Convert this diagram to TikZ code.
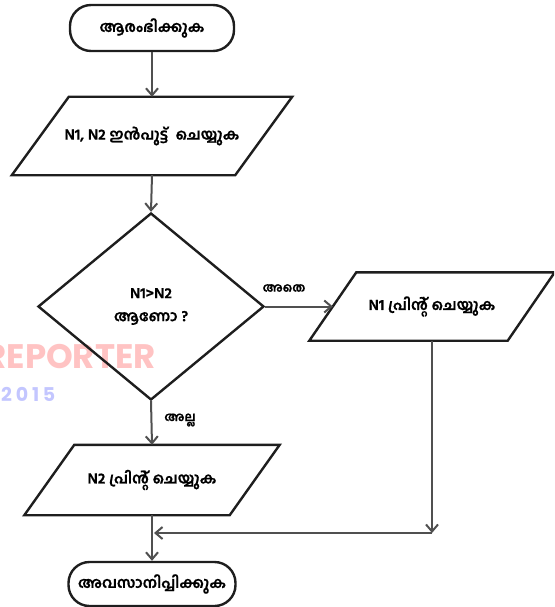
\documentclass[tikz,border=0pt]{standalone}
\usepackage{fontspec}
\usetikzlibrary{calc,shapes.geometric,arrows.meta}
\newfontfamily\ml[Script=Malayalam,BoldFeatures={FakeBold=0.6}]{Hind Kochi}
\newfontfamily\wmfont{Poppins}
\definecolor{edge}{HTML}{1E1E1E}
\definecolor{conn}{HTML}{505050}
\definecolor{wmred}{RGB}{255,195,195}
\definecolor{wmblue}{RGB}{195,198,255}
\tikzset{
  term/.style={draw=edge,line width=2.4pt,rounded corners=21pt,minimum height=#1,inner sep=0pt,font=\ml\bfseries\fontsize{15}{17}\selectfont},
  para/.style={inner sep=0pt,font=\ml\bfseries\fontsize{15}{17}\selectfont},
  decision/.style={diamond,draw=edge,line width=2.4pt,inner sep=0pt,align=center,font=\ml\bfseries\fontsize{15}{23}\selectfont},
  arr/.style={draw=conn,line width=2pt,-{Straight Barb[length=7pt,width=12pt,line width=2pt]}},
  lbl/.style={font=\ml\bfseries\fontsize{12.5}{14}\selectfont,inner sep=0pt},
}
\newcommand{\paral}[2]{% node, slant
  \draw[edge,line width=2.4pt,line join=miter] (#1.south west) -- ($(#1.north west)+(#2,0)$) -- (#1.north east) -- ($(#1.south east)-(#2,0)$) -- cycle;}
\begin{document}
\begin{tikzpicture}[x=1pt,y=-1pt]
\useasboundingbox (0,0) rectangle (554,607);
\clip (0,0) rectangle (554,607);
% watermark
\node[anchor=east,inner sep=0pt,text=wmred,font=\wmfont\bfseries\fontsize{34}{36}\selectfont] (wm1) at (156,357) {REPORTER};
\node[anchor=west,inner sep=0pt,text=wmblue,font=\wmfont\bfseries\fontsize{19}{20}\selectfont\addfontfeatures{LetterSpace=20}] (wm2) at (1,394) {2015};
% nodes
\node[term=46pt,minimum width=164pt] (start) at (152,28) {ആരംഭിക്കുക};
\node[para,minimum width=280pt,minimum height=78pt] (input) at (152,136) {N1, N2 ഇൻപുട്ട്\ \ ചെയ്യുക};
\node[decision,minimum width=226pt,minimum height=187pt] (dec) at (151,306.5) {N1>N2\\ആണോ ?};
\node[para,minimum width=245pt,minimum height=68pt] (p1) at (432,306.5) {N1 പ്രിന്റ് ചെയ്യുക};
\node[para,minimum width=255pt,minimum height=70pt] (p2) at (152,480) {N2 പ്രിന്റ് ചെയ്യുക};
\node[term=44pt,minimum width=167pt] (stop) at (152,584) {അവസാനിപ്പിക്കുക};
\paral{input}{57}
\paral{p1}{47}
\paral{p2}{50}
\coordinate (p1in) at ($(p1.west)+(23.5,0)$);
\coordinate (join) at (152,533);
\coordinate (corner) at (p1.south |- join);
% connectors
\draw[arr] (start.south) -- (input.north);
\draw[arr] (input.south) -- (dec.north);
\draw[arr] (dec.east) -- (p1in);
\draw[arr] (dec.south) -- (p2.north);
\draw[arr] (p1.south) -- (corner);
\draw[arr] (corner) -- ($(join)+(2,0)$);
\draw[arr] (p2.south) -- (stop.north);
% labels
\node[lbl] (yes) at (284,288) {അതെ};
\node[lbl] (no) at (180,420) {അല്ല};
\end{tikzpicture}
\end{document}
